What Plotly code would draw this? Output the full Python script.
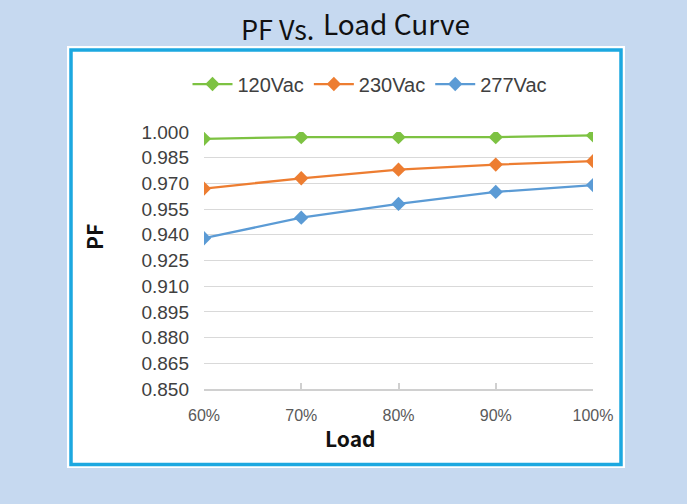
import plotly.graph_objects as go

# load points (%), tick labels and PF readings per input voltage
load_pct = [60, 70, 80, 90, 100]
load_labels = ["60%", "70%", "80%", "90%", "100%"]
pf_120vac = [0.996, 0.997, 0.997, 0.997, 0.998]
pf_230vac = [0.967, 0.973, 0.978, 0.981, 0.983]
pf_277vac = [0.938, 0.950, 0.958, 0.965, 0.969]

series = [
    ("120Vac", pf_120vac, "#7DC242"),
    ("230Vac", pf_230vac, "#ED7D31"),
    ("277Vac", pf_277vac, "#5B9BD5"),
]

W, H = 687, 504
L, R, T, B = 204, 94, 132, 115
pw, ph = W - L - R, H - T - B

CJK = "Noto Sans CJK SC, sans-serif"


def px_x(p):
    return (p - L) / pw


def px_y(p):
    return (H - B - p) / ph


fig = go.Figure()
for name, vals, color in series:
    fig.add_trace(go.Scatter(
        x=load_pct, y=vals, name=name, mode="lines+markers",
        line=dict(color=color, width=2.25),
        marker=dict(symbol="diamond", size=11, color=color),
    ))


def label(text, x, y, size, **kw):
    return dict(text=text, x=px_x(x), y=px_y(y), xref="paper", yref="paper",
                showarrow=False, yanchor="middle",
                font=dict(family=CJK, size=size, color="#111111"), **kw)


fig.update_layout(
    width=W, height=H,
    margin=dict(l=L, r=R, t=T, b=B, pad=0),
    paper_bgcolor="#C6D9F0",
    plot_bgcolor="white",
    legend=dict(
        orientation="h", x=px_x(370), y=px_y(84), xanchor="center", yanchor="middle",
        font=dict(family="Liberation Sans, Arial, sans-serif", size=20, color="#404040"),
        bgcolor="rgba(0,0,0,0)", itemwidth=40, tracegroupgap=0,
    ),
    showlegend=True,
    xaxis=dict(
        range=[60, 100], tickvals=load_pct, ticktext=load_labels,
        showgrid=False, zeroline=False,
        showline=True, linecolor="#D0D0D0", linewidth=1.5,
        ticks="inside", ticklen=6, tickcolor="#D0D0D0", tickwidth=1.5,
        ticklabelstandoff=11,
        tickfont=dict(family="Liberation Sans Narrow, Arial Narrow, sans-serif",
                      size=16, color="#595959"),
    ),
    yaxis=dict(
        range=[0.85, 1.0], dtick=0.015, tick0=0.85, tickformat=".3f",
        showgrid=True, gridcolor="#D9D9D9", gridwidth=1.2,
        zeroline=False, showline=False, ticks="",
        ticklabelstandoff=14,
        tickfont=dict(family="Liberation Sans, Arial, sans-serif", size=19, color="#404040"),
    ),
    annotations=[
        # title: "PF Vs." sits a little lower than "Load Curve" in the original
        label("PF Vs.", 239, 28, 27, xanchor="left"),
        label("Load Curve", 321, 23, 28, xanchor="left"),
        label("<b>PF</b>", 94, 237, 21, xanchor="center", textangle=-90),
        label("<b>Load</b>", 350, 438, 21, xanchor="center"),
    ],
    shapes=[
        dict(type="rect", xref="paper", yref="paper",
             x0=px_x(67), x1=px_x(625), y0=px_y(468), y1=px_y(46),
             fillcolor="white", line=dict(width=0), layer="below"),
        dict(type="rect", xref="paper", yref="paper",
             x0=px_x(71), x1=px_x(621), y0=px_y(464.5), y1=px_y(50),
             fillcolor="rgba(0,0,0,0)", line=dict(color="#1CA8E0", width=3.5),
             layer="below"),
    ],
)

# drop the default 8px body margin so the figure sits flush in the window
fig.write_html("out.html", config={"displayModeBar": False},
               post_script="document.body.style.margin='0';")
